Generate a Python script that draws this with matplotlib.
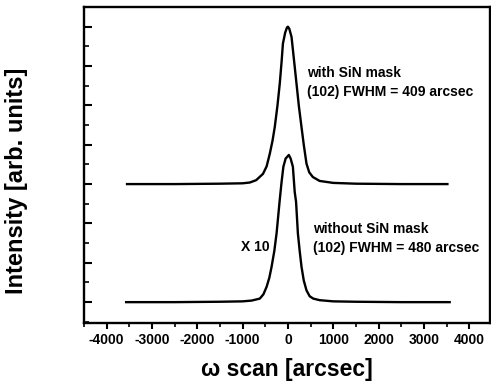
import numpy as np
import matplotlib.pyplot as plt
from matplotlib.ticker import MultipleLocator

plt.rcParams['font.family'] = ['Liberation Sans', 'DejaVu Sans']
plt.rcParams['font.weight'] = 'bold'

# omega scan [arcsec] and intensity (arb. units)
x_with = [-3550, -2500, -1500, -1000, -840, -700, -550, -470, -400, -340, -290, -230,
          -180, -140, -110, -60, -20, 0, 30, 80, 130, 190, 240, 300, 350, 410, 470,
          550, 700, 1000, 1500, 2500, 3520]
y_with = [0.0, 0.0, 0.01, 0.02, 0.04, 0.1, 0.26, 0.45, 0.77, 1.1, 1.45, 2.0,
          2.55, 3.1, 3.57, 3.85, 3.98, 4.0, 3.95, 3.74, 3.2, 2.55, 2.0, 1.45, 1.0, 0.52, 0.3,
          0.18, 0.08, 0.03, 0.01, 0.0, 0.0]

x_without = [-3570, -2500, -1500, -1000, -800, -620, -540, -470, -410, -360, -300, -250,
             -180, -140, -100, -50, -10, 20, 60, 110, 150, 180, 220, 260, 300, 350, 410,
             480, 560, 700, 1000, 1500, 2500, 3570]
y_without = [0.0, 0.0, 0.01, 0.02, 0.04, 0.09, 0.2, 0.39, 0.62, 0.9, 1.3, 1.75,
             2.6, 3.05, 3.44, 3.65, 3.7, 3.74, 3.65, 3.44, 2.8, 2.55, 1.75, 1.3, 0.9, 0.55, 0.3,
             0.15, 0.09, 0.05, 0.02, 0.01, 0.0, 0.0]
offset_with = 3.0
xticks = list(range(-4000, 4001, 1000))

fig = plt.figure(figsize=(4.91, 3.86), dpi=100)
ax = fig.add_axes([84 / 491, 63 / 386, 406 / 491, 316 / 386])

ax.plot(x_with, np.array(y_with) + offset_with, color='black', lw=1.7)
ax.plot(x_without, y_without, color='black', lw=1.7)

ax.set_xlim(-4500, 4460)
ax.set_ylim(-0.53, 7.5)

ax.set_xticks(xticks)
ax.set_xticklabels([str(v) for v in xticks], fontweight='bold')
ax.xaxis.set_minor_locator(MultipleLocator(500))
ax.yaxis.set_major_locator(MultipleLocator(1))
ax.yaxis.set_minor_locator(MultipleLocator(0.5))
ax.tick_params(axis='x', which='major', direction='out', length=4, width=1.5, labelsize=10, pad=3)
ax.tick_params(axis='x', which='minor', direction='out', length=3, width=1.2)
ax.tick_params(axis='y', which='major', direction='in', length=6, width=1.5, labelleft=False)
ax.tick_params(axis='y', which='minor', direction='in', length=3.5, width=1.2)
for s in ax.spines.values():
    s.set_linewidth(1.7)

ax.text(420, 5.83, 'with SiN mask', fontsize=10, fontweight='bold', va='center')
ax.text(420, 5.35, '(102) FWHM = 409 arcsec', fontsize=10, fontweight='bold', va='center')
ax.text(550, 1.85, 'without SiN mask', fontsize=10, fontweight='bold', va='center')
ax.text(550, 1.38, '(102) FWHM = 480 arcsec', fontsize=10, fontweight='bold', va='center')
ax.text(-730, 1.4, 'X 10', fontsize=10, fontweight='bold', va='center', ha='center')

ax.set_xlabel('ω scan [arcsec]', fontsize=16.5, fontweight='bold', labelpad=8)
fig.text(17 / 491, (386 - 181) / 386, 'Intensity [arb. units]', fontsize=17,
         fontweight='bold', rotation=90, ha='center', va='center')

fig.savefig('out.png', dpi=100)
